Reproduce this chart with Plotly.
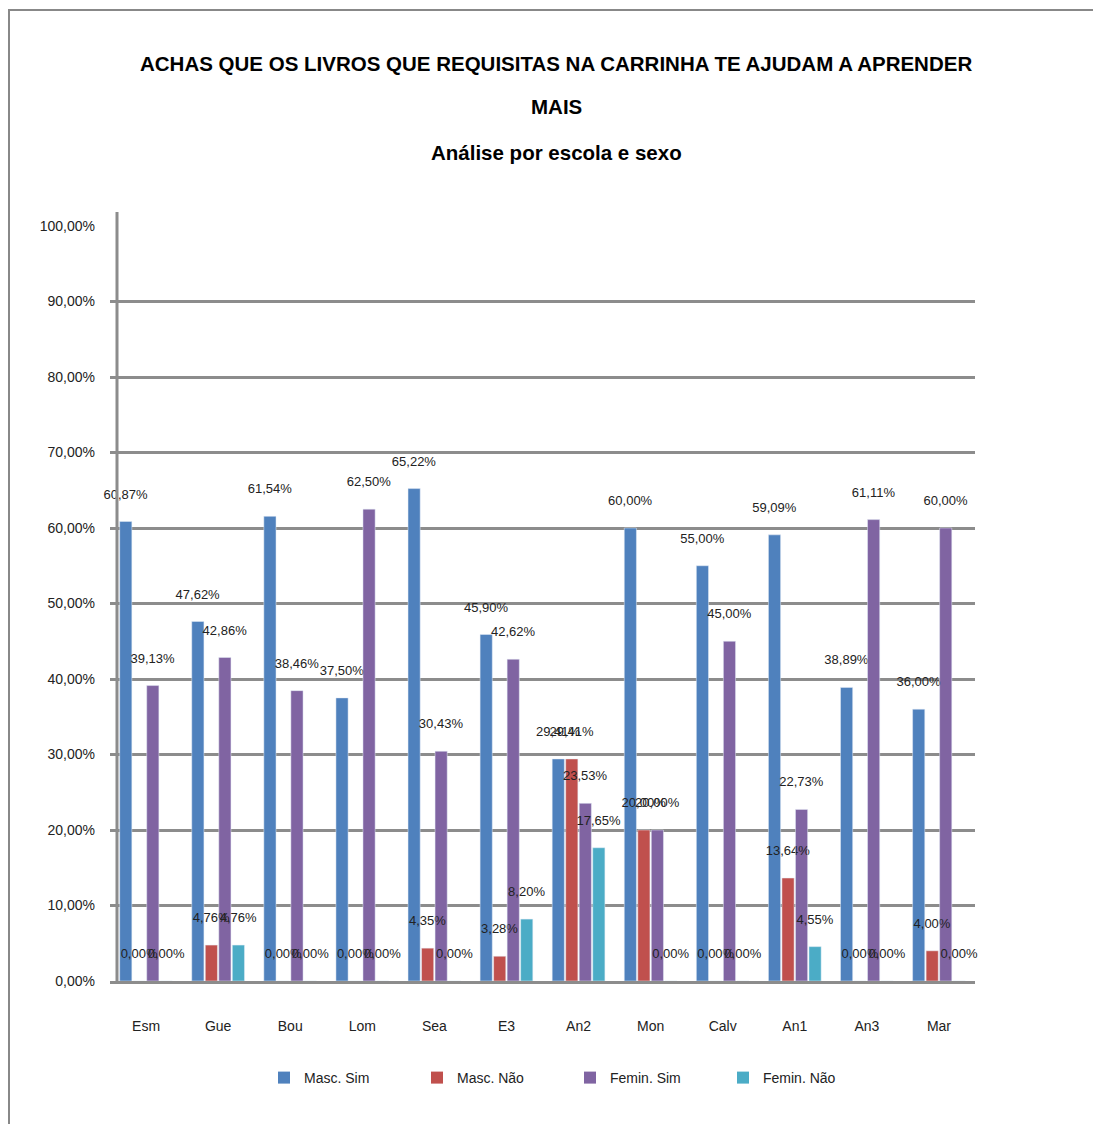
import plotly.graph_objects as go

categories = ["Esm", "Gue", "Bou", "Lom", "Sea", "E3", "An2", "Mon", "Calv", "An1", "An3", "Mar"]
masc_sim = [60.87, 47.62, 61.54, 37.50, 65.22, 45.90, 29.41, 60.00, 55.00, 59.09, 38.89, 36.00]
masc_nao = [0.00, 4.76, 0.00, 0.00, 4.35, 3.28, 29.41, 20.00, 0.00, 13.64, 0.00, 4.00]
femin_sim = [39.13, 42.86, 38.46, 62.50, 30.43, 42.62, 23.53, 20.00, 45.00, 22.73, 61.11, 60.00]
femin_nao = [0.00, 4.76, 0.00, 0.00, 0.00, 8.20, 17.65, 0.00, 0.00, 4.55, 0.00, 0.00]
series_names = ["Masc. Sim", "Masc. Não", "Femin. Sim", "Femin. Não"]
colors = ["#4F81BD", "#C0504D", "#8064A2", "#4BACC6"]

W, H = 1101, 1124
OFF = 8  # page body margin
PL, PR, PT, PB = 110, 975, 226, 981
ML = PL - OFF
MR = W - (PR - OFF)
MT = PT - OFF
MB = H - (PB - OFF)
FONT = "Liberation Sans, Arial"

def px_x(p):
    return (p - PL) / (PR - PL)

def px_y(p):
    return (PB - p) / (PB - PT)

all_series = [masc_sim, masc_nao, femin_sim, femin_nao]

fig = go.Figure()
for i, (name, vals, col) in enumerate(zip(series_names, all_series, colors)):
    fig.add_trace(go.Bar(
        x=categories, y=vals, name=name, offsetgroup=str(i),
        marker=dict(color=col, line=dict(color=col, width=0)),
        hoverinfo="x+y+name",
    ))
# label layers drawn on top of all bars
for i, (name, vals) in enumerate(zip(series_names, all_series)):
    fig.add_trace(go.Bar(
        x=categories, y=vals, name=name + " rótulo", offsetgroup=str(i),
        marker=dict(color="rgba(0,0,0,0)"), showlegend=False, hoverinfo="skip",
        texttemplate="%{y:.2f}%<br> ", textposition="outside",
        constraintext="none",
        textfont=dict(family=FONT, size=13, color="#222"),
        cliponaxis=False,
    ))

title_lines = [
    ("ACHAS QUE OS LIVROS QUE REQUISITAS NA CARRINHA TE AJUDAM A APRENDER", 63),
    ("MAIS", 107),
    ("Análise por escola e sexo", 152),
]
annotations = []
for txt, yp in title_lines:
    annotations.append(dict(
        text="<b>" + txt + "</b>", xref="paper", yref="paper",
        x=px_x(556), y=px_y(yp), xanchor="center", yanchor="middle",
        showarrow=False, font=dict(family=FONT, size=20.5, color="#000")))

shapes = [
    dict(type="rect", xref="paper", yref="paper",
         x0=px_x(9), x1=px_x(1102), y0=px_y(1126), y1=px_y(10),
         line=dict(color="#888", width=2), layer="below"),
    dict(type="line", xref="paper", yref="paper",
         x0=px_x(117), x1=px_x(117), y0=0, y1=px_y(212),
         line=dict(color="#8c8c8c", width=3)),
]

fig.update_layout(
    width=W, height=H,
    paper_bgcolor="white", plot_bgcolor="white",
    margin=dict(l=ML, r=MR, t=MT, b=MB),
    separators=",.",
    barmode="group", bargap=0.25, bargroupgap=0.1,
    font=dict(family=FONT, size=14, color="#222"),
    xaxis=dict(showgrid=False, tickfont=dict(family=FONT, size=14, color="#222"),
               ticks="", ticklabelstandoff=30,
               showline=True, linecolor="#8c8c8c", linewidth=3),
    yaxis=dict(range=[0, 100], dtick=10, tickformat=".2f", ticksuffix="%",
               showgrid=True, gridcolor="#8c8c8c", gridwidth=3,
               zeroline=False, ticks="", ticklabelstandoff=14,
               tickfont=dict(family=FONT, size=14, color="#222")),
    legend=dict(orientation="h", x=px_x(570), xanchor="center", y=px_y(1062), yanchor="top",
                entrywidth=108, font=dict(family=FONT, size=14, color="#222"),
                itemwidth=30),
    annotations=annotations,
    shapes=shapes,
)

fig.write_html("out.html")
